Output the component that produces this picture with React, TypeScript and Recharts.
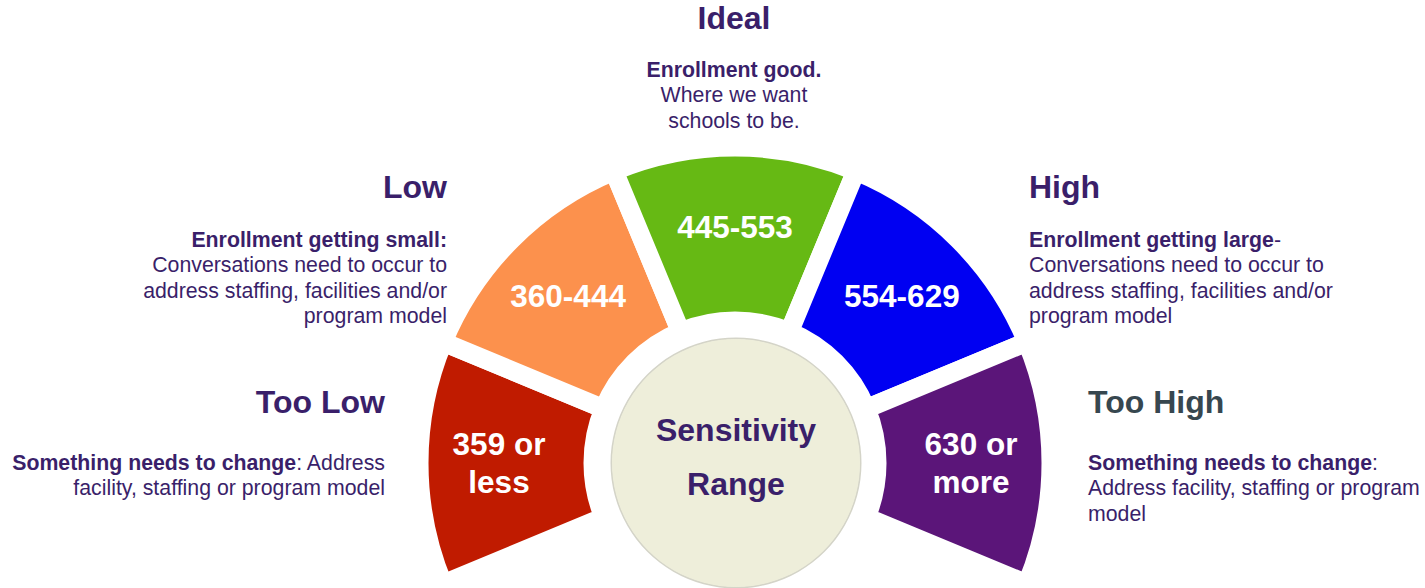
import React from "react";
import { PieChart, Pie, Cell } from "recharts";

const categories = ["Too Low", "Low", "Ideal", "High", "Too High"];
const segmentShares = [1, 1, 1, 1, 1];
const rangeLabels: string[][] = [["359 or", "less"], ["360-444"], ["445-553"], ["554-629"], ["630 or", "more"]];
const segmentColors = ["#C01B00", "#FC914D", "#66B914", "#0000F2", "#5B1579"];
const centerLines = ["Sensitivity", "Range"];

const segmentData = categories.map((name, i) => ({ name, value: segmentShares[i], lines: rangeLabels[i] }));
const centerData = [{ name: "center", value: 1 }];

const TEXT = "#3A1F6A";
const SLATE = "#37474F";
const FONT = "'Liberation Sans', Arial, sans-serif";
const CX = 735;
const CY = 463;
const RADIAN = Math.PI / 180;

type Part = { t: string; b?: boolean };
type Block = { x: number; y: number; anchor: "start" | "middle" | "end"; title: string; titleY: number; titleColor: string; lines: Part[][] };

const annotations: Block[] = [
  {
    x: 734, y: 77, anchor: "middle", title: "Ideal", titleY: 29, titleColor: TEXT,
    lines: [[{ t: "Enrollment good.", b: true }], [{ t: "Where we want" }], [{ t: "schools to be." }]],
  },
  {
    x: 447, y: 247, anchor: "end", title: "Low", titleY: 198, titleColor: TEXT,
    lines: [
      [{ t: "Enrollment getting small:", b: true }],
      [{ t: "Conversations need to occur to" }],
      [{ t: "address staffing, facilities and/or" }],
      [{ t: "program model" }],
    ],
  },
  {
    x: 385, y: 470, anchor: "end", title: "Too Low", titleY: 413, titleColor: TEXT,
    lines: [
      [{ t: "Something needs to change", b: true }, { t: ": Address" }],
      [{ t: "facility, staffing or program model" }],
    ],
  },
  {
    x: 1029, y: 247, anchor: "start", title: "High", titleY: 198, titleColor: TEXT,
    lines: [
      [{ t: "Enrollment getting large", b: true }, { t: "-" }],
      [{ t: "Conversations need to occur to" }],
      [{ t: "address staffing, facilities and/or" }],
      [{ t: "program model" }],
    ],
  },
  {
    x: 1088, y: 470, anchor: "start", title: "Too High", titleY: 413, titleColor: SLATE,
    lines: [
      [{ t: "Something needs to change", b: true }, { t: ":" }],
      [{ t: "Address facility, staffing or program" }],
      [{ t: "model" }],
    ],
  },
];

const Annotations = () => (
  <g fontFamily={FONT}>
    {annotations.map((a, i) => (
      <g key={i}>
        <text x={a.x} y={a.titleY} textAnchor={a.anchor} fontSize={32} fontWeight="bold" fill={a.titleColor}>
          {a.title}
        </text>
        {a.lines.map((ln, j) => (
          <text key={j} x={a.x} y={a.y + j * 25.3} textAnchor={a.anchor} fontSize={21.3} fill={TEXT}>
            {ln.map((p, k) => (
              <tspan key={k} fontWeight={p.b ? "bold" : "normal"}>{p.t}</tspan>
            ))}
          </text>
        ))}
      </g>
    ))}
  </g>
);

const renderSegmentLabel = (props: any) => {
  const { cx, cy, midAngle, index } = props;
  const r = 236;
  const x = cx + r * Math.cos(-midAngle * RADIAN);
  const y = cy + r * Math.sin(-midAngle * RADIAN);
  const lines = segmentData[index].lines;
  const lh = 38;
  return (
    <text x={x} y={y} textAnchor="middle" fill="#FFFFFF" fontFamily={FONT} fontSize={31.5} fontWeight="bold">
      {lines.map((l: string, i: number) => (
        <tspan key={i} x={x} y={y + (i - (lines.length - 1) / 2) * lh} dominantBaseline="central">{l}</tspan>
      ))}
    </text>
  );
};

const renderCenterLabel = (props: any) => {
  const { cx } = props;
  return (
    <g>
      <g fontFamily={FONT} fontSize={32} fontWeight="bold" fill={TEXT}>
        <text x={cx} y={441} textAnchor="middle" fill={TEXT}>{centerLines[0]}</text>
        <text x={cx} y={495} textAnchor="middle" fill={TEXT}>{centerLines[1]}</text>
      </g>
      <Annotations />
    </g>
  );
};

export default function App() {
  return (
    <div style={{ position: "fixed", left: 0, top: 0, width: 1425, height: 588, background: "#fff" }}>
      <PieChart width={1425} height={588} margin={{ top: 0, right: 0, bottom: 0, left: 0 }}>
        <Pie
          data={segmentData}
          dataKey="value"
          nameKey="name"
          cx={CX}
          cy={CY}
          startAngle={202.5}
          endAngle={-22.5}
          innerRadius={142}
          outerRadius={316}
          stroke="#FFFFFF"
          strokeWidth={19}
          label={renderSegmentLabel}
          labelLine={false}
          isAnimationActive={false}
        >
          {segmentData.map((d, i) => (
            <Cell key={d.name} fill={segmentColors[i]} />
          ))}
        </Pie>
        <Pie
          data={centerData}
          dataKey="value"
          cx={CX + 1}
          cy={CY}
          innerRadius={123.5}
          outerRadius={125.5}
          fill="#D4D4C8"
          stroke="none"
          isAnimationActive={false}
        />
        <Pie
          data={centerData}
          dataKey="value"
          cx={CX + 1}
          cy={CY}
          innerRadius={0}
          outerRadius={124}
          fill="#EEEEDA"
          stroke="none"
          label={renderCenterLabel}
          labelLine={false}
          isAnimationActive={false}
        />
      </PieChart>
    </div>
  );
}
